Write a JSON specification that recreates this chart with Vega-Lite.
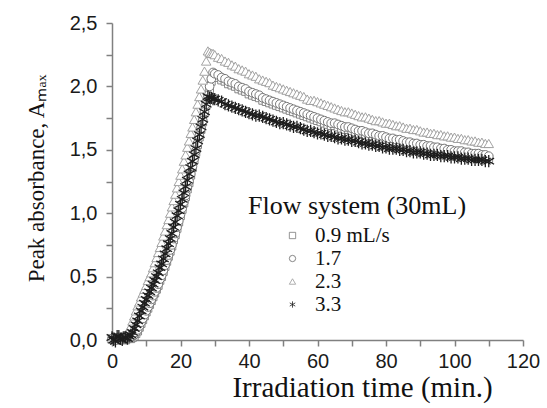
{
"$schema": "https://vega.github.io/schema/vega-lite/v6.json",
"width": 411, "height": 317,
"autosize": {"type": "none"},
"padding": {"left": 112, "top": 23, "right": 24, "bottom": 68},
"background": "white",
"config": {"view": {"stroke": null}},
"data": {"values": [
{"t":0,"a":0.01,"b":0.01,"c":0.01,"d":0.02},
{"t":0.5,"a":0.00,"b":0.02,"c":0.03,"d":0.00},
{"t":1,"a":0.02,"b":0.00,"c":0.02,"d":-0.01},
{"t":1.5,"a":0.01,"b":0.01,"c":0.00,"d":0.03},
{"t":2,"a":0.00,"b":0.02,"c":0.00,"d":0.03},
{"t":2.5,"a":0.02,"b":0.01,"c":0.02,"d":0.01},
{"t":3,"a":0.01,"b":0.01,"c":0.03,"d":0.00},
{"t":3.5,"a":0.02,"b":0.03,"c":0.03,"d":0.02},
{"t":4,"a":0.00,"b":0.02,"c":0.04,"d":0.02},
{"t":4.5,"a":0.01,"b":0.01,"c":0.06,"d":0.01},
{"t":5,"a":0.02,"b":0.02,"c":0.08,"d":0.03},
{"t":5.5,"a":0.01,"b":0.03,"c":0.11,"d":0.04},
{"t":6,"a":0.02,"b":0.03,"c":0.15,"d":0.06},
{"t":6.5,"a":0.03,"b":0.04,"c":0.19,"d":0.09},
{"t":7,"a":0.05,"b":0.06,"c":0.23,"d":0.12},
{"t":7.5,"a":0.07,"b":0.08,"c":0.27,"d":0.15},
{"t":8,"a":0.10,"b":0.11,"c":0.30,"d":0.19},
{"t":8.5,"a":0.13,"b":0.14,"c":0.34,"d":0.23},
{"t":9,"a":0.16,"b":0.17,"c":0.37,"d":0.26},
{"t":9.5,"a":0.19,"b":0.20,"c":0.40,"d":0.29},
{"t":10,"a":0.22,"b":0.23,"c":0.43,"d":0.32},
{"t":10.5,"a":0.25,"b":0.26,"c":0.47,"d":0.35},
{"t":11,"a":0.28,"b":0.29,"c":0.50,"d":0.38},
{"t":11.5,"a":0.31,"b":0.32,"c":0.53,"d":0.41},
{"t":12,"a":0.34,"b":0.35,"c":0.57,"d":0.44},
{"t":12.5,"a":0.37,"b":0.38,"c":0.61,"d":0.47},
{"t":13,"a":0.40,"b":0.41,"c":0.65,"d":0.50},
{"t":13.5,"a":0.43,"b":0.44,"c":0.69,"d":0.53},
{"t":14,"a":0.47,"b":0.48,"c":0.73,"d":0.57},
{"t":14.5,"a":0.50,"b":0.51,"c":0.77,"d":0.60},
{"t":15,"a":0.54,"b":0.55,"c":0.82,"d":0.64},
{"t":15.5,"a":0.58,"b":0.59,"c":0.86,"d":0.68},
{"t":16,"a":0.62,"b":0.63,"c":0.91,"d":0.72},
{"t":16.5,"a":0.66,"b":0.67,"c":0.95,"d":0.76},
{"t":17,"a":0.70,"b":0.71,"c":1.00,"d":0.80},
{"t":17.5,"a":0.74,"b":0.75,"c":1.05,"d":0.84},
{"t":18,"a":0.79,"b":0.80,"c":1.10,"d":0.89},
{"t":18.5,"a":0.83,"b":0.84,"c":1.15,"d":0.93},
{"t":19,"a":0.88,"b":0.89,"c":1.20,"d":0.98},
{"t":19.5,"a":0.93,"b":0.94,"c":1.25,"d":1.02},
{"t":20,"a":0.98,"b":0.99,"c":1.30,"d":1.07},
{"t":20.5,"a":1.03,"b":1.04,"c":1.35,"d":1.11},
{"t":21,"a":1.08,"b":1.09,"c":1.41,"d":1.16},
{"t":21.5,"a":1.13,"b":1.14,"c":1.46,"d":1.21},
{"t":22,"a":1.19,"b":1.20,"c":1.52,"d":1.26},
{"t":22.5,"a":1.24,"b":1.25,"c":1.57,"d":1.31},
{"t":23,"a":1.30,"b":1.31,"c":1.63,"d":1.36},
{"t":23.5,"a":1.36,"b":1.37,"c":1.68,"d":1.41},
{"t":24,"a":1.42,"b":1.43,"c":1.74,"d":1.46},
{"t":24.5,"a":1.48,"b":1.49,"c":1.80,"d":1.51},
{"t":25,"a":1.54,"b":1.55,"c":1.86,"d":1.57},
{"t":25.5,"a":1.60,"b":1.61,"c":1.92,"d":1.62},
{"t":26,"a":1.66,"b":1.67,"c":1.98,"d":1.68},
{"t":26.5,"a":1.72,"b":1.73,"c":2.05,"d":1.74},
{"t":27,"a":1.79,"b":1.80,"c":2.12,"d":1.80},
{"t":27.5,"a":1.85,"b":1.86,"c":2.20,"d":1.86},
{"t":28,"a":1.92,"b":1.93,"c":2.28,"d":1.92},
{"t":28.5,"a":1.98,"b":2.00,"c":2.27,"d":1.91},
{"t":29,"a":2.04,"b":2.06,"c":2.26,"d":1.91},
{"t":29.5,"a":2.08,"b":2.11,"c":2.26,"d":1.90},
{"t":30,"a":2.08,"b":2.10,"c":2.25,"d":1.90},
{"t":31,"a":2.07,"b":2.09,"c":2.23,"d":1.89},
{"t":32,"a":2.05,"b":2.07,"c":2.22,"d":1.88},
{"t":33,"a":2.04,"b":2.06,"c":2.20,"d":1.86},
{"t":34,"a":2.02,"b":2.04,"c":2.19,"d":1.85},
{"t":35,"a":2.01,"b":2.03,"c":2.17,"d":1.84},
{"t":36,"a":2.00,"b":2.02,"c":2.16,"d":1.83},
{"t":37,"a":1.98,"b":2.00,"c":2.14,"d":1.82},
{"t":38,"a":1.97,"b":1.99,"c":2.13,"d":1.81},
{"t":39,"a":1.96,"b":1.98,"c":2.12,"d":1.80},
{"t":40,"a":1.94,"b":1.96,"c":2.10,"d":1.79},
{"t":41,"a":1.93,"b":1.95,"c":2.09,"d":1.78},
{"t":42,"a":1.92,"b":1.94,"c":2.08,"d":1.77},
{"t":43,"a":1.91,"b":1.93,"c":2.06,"d":1.77},
{"t":44,"a":1.89,"b":1.91,"c":2.05,"d":1.76},
{"t":45,"a":1.88,"b":1.90,"c":2.04,"d":1.75},
{"t":46,"a":1.87,"b":1.89,"c":2.03,"d":1.74},
{"t":47,"a":1.86,"b":1.88,"c":2.01,"d":1.73},
{"t":48,"a":1.85,"b":1.87,"c":2.00,"d":1.72},
{"t":49,"a":1.84,"b":1.86,"c":1.99,"d":1.71},
{"t":50,"a":1.83,"b":1.85,"c":1.98,"d":1.71},
{"t":51,"a":1.82,"b":1.84,"c":1.97,"d":1.70},
{"t":52,"a":1.81,"b":1.83,"c":1.96,"d":1.69},
{"t":53,"a":1.80,"b":1.82,"c":1.95,"d":1.68},
{"t":54,"a":1.79,"b":1.81,"c":1.94,"d":1.68},
{"t":55,"a":1.78,"b":1.80,"c":1.93,"d":1.67},
{"t":56,"a":1.77,"b":1.79,"c":1.92,"d":1.66},
{"t":57,"a":1.76,"b":1.78,"c":1.90,"d":1.65},
{"t":58,"a":1.75,"b":1.77,"c":1.89,"d":1.65},
{"t":59,"a":1.74,"b":1.76,"c":1.89,"d":1.64},
{"t":60,"a":1.73,"b":1.75,"c":1.88,"d":1.63},
{"t":61,"a":1.72,"b":1.74,"c":1.87,"d":1.63},
{"t":62,"a":1.71,"b":1.73,"c":1.86,"d":1.62},
{"t":63,"a":1.70,"b":1.72,"c":1.85,"d":1.61},
{"t":64,"a":1.69,"b":1.71,"c":1.84,"d":1.61},
{"t":65,"a":1.69,"b":1.71,"c":1.83,"d":1.60},
{"t":66,"a":1.68,"b":1.70,"c":1.82,"d":1.59},
{"t":67,"a":1.67,"b":1.69,"c":1.81,"d":1.59},
{"t":68,"a":1.66,"b":1.68,"c":1.80,"d":1.58},
{"t":69,"a":1.66,"b":1.68,"c":1.80,"d":1.58},
{"t":70,"a":1.65,"b":1.67,"c":1.79,"d":1.57},
{"t":71,"a":1.64,"b":1.66,"c":1.78,"d":1.57},
{"t":72,"a":1.63,"b":1.65,"c":1.77,"d":1.56},
{"t":73,"a":1.63,"b":1.65,"c":1.76,"d":1.55},
{"t":74,"a":1.62,"b":1.64,"c":1.76,"d":1.55},
{"t":75,"a":1.61,"b":1.63,"c":1.75,"d":1.54},
{"t":76,"a":1.61,"b":1.63,"c":1.74,"d":1.54},
{"t":77,"a":1.60,"b":1.62,"c":1.73,"d":1.53},
{"t":78,"a":1.59,"b":1.61,"c":1.73,"d":1.53},
{"t":79,"a":1.59,"b":1.61,"c":1.72,"d":1.52},
{"t":80,"a":1.58,"b":1.60,"c":1.71,"d":1.52},
{"t":81,"a":1.57,"b":1.59,"c":1.71,"d":1.51},
{"t":82,"a":1.57,"b":1.59,"c":1.70,"d":1.51},
{"t":83,"a":1.56,"b":1.58,"c":1.69,"d":1.51},
{"t":84,"a":1.56,"b":1.58,"c":1.69,"d":1.50},
{"t":85,"a":1.55,"b":1.57,"c":1.68,"d":1.50},
{"t":86,"a":1.54,"b":1.56,"c":1.67,"d":1.49},
{"t":87,"a":1.54,"b":1.56,"c":1.67,"d":1.49},
{"t":88,"a":1.53,"b":1.55,"c":1.66,"d":1.48},
{"t":89,"a":1.53,"b":1.55,"c":1.66,"d":1.48},
{"t":90,"a":1.52,"b":1.54,"c":1.65,"d":1.48},
{"t":91,"a":1.52,"b":1.54,"c":1.64,"d":1.47},
{"t":92,"a":1.51,"b":1.53,"c":1.64,"d":1.47},
{"t":93,"a":1.51,"b":1.53,"c":1.63,"d":1.46},
{"t":94,"a":1.50,"b":1.52,"c":1.63,"d":1.46},
{"t":95,"a":1.50,"b":1.52,"c":1.62,"d":1.46},
{"t":96,"a":1.49,"b":1.51,"c":1.62,"d":1.45},
{"t":97,"a":1.49,"b":1.51,"c":1.61,"d":1.45},
{"t":98,"a":1.48,"b":1.50,"c":1.61,"d":1.45},
{"t":99,"a":1.48,"b":1.50,"c":1.60,"d":1.44},
{"t":100,"a":1.47,"b":1.49,"c":1.60,"d":1.44},
{"t":101,"a":1.47,"b":1.49,"c":1.59,"d":1.44},
{"t":102,"a":1.47,"b":1.49,"c":1.59,"d":1.43},
{"t":103,"a":1.46,"b":1.48,"c":1.58,"d":1.43},
{"t":104,"a":1.46,"b":1.48,"c":1.58,"d":1.43},
{"t":105,"a":1.45,"b":1.47,"c":1.57,"d":1.42},
{"t":106,"a":1.45,"b":1.47,"c":1.57,"d":1.42},
{"t":107,"a":1.45,"b":1.47,"c":1.56,"d":1.42},
{"t":108,"a":1.44,"b":1.46,"c":1.56,"d":1.42},
{"t":109,"a":1.44,"b":1.46,"c":1.55,"d":1.41},
{"t":110,"a":1.43,"b":1.45,"c":1.55,"d":1.41}
]},
"transform": [{"fold": ["a", "b", "c", "d"], "as": ["k", "v"]}],
"encoding": {
  "x": {"field": "t", "type": "quantitative",
        "scale": {"domain": [0, 120], "nice": false, "zero": false},
        "axis": {"values": [0,10,20,30,40,50,60,70,80,90,100,110,120],
                 "labelExpr": "datum.value % 20 == 0 ? datum.label : ''",
                 "labelOverlap": false, "labelFlush": false, "grid": false,
                 "domainColor": "#808080", "tickColor": "#808080", "domainWidth": 1.5, "tickWidth": 1.5, "tickSize": 6,
                 "labelFont": "Liberation Sans", "labelFontSize": 20, "labelColor": "#1a1a1a", "labelPadding": 5,
                 "title": "Irradiation time (min.)", "titleFont": "Liberation Serif", "titleFontSize": 29,
                 "titleFontWeight": "normal", "titleColor": "#111111", "titleX": 250, "titleY": 56,
                 "titleBaseline": "alphabetic", "titleAlign": "center", "titleLimit": 500}},
  "y": {"field": "v", "type": "quantitative",
        "scale": {"domain": [0, 2.5], "nice": false},
        "axis": {"values": [0,0.25,0.5,0.75,1,1.25,1.5,1.75,2,2.25,2.5],
                 "labelExpr": "(datum.value*2) % 1 == 0 ? replace(format(datum.value, '.1f'), '.', ',') : ''",
                 "labelOverlap": false, "labelFlush": false, "grid": false,
                 "domainColor": "#808080", "tickColor": "#808080", "domainWidth": 1.5, "tickWidth": 1.5, "tickSize": 6,
                 "labelFont": "Liberation Sans", "labelFontSize": 20, "labelColor": "#1a1a1a", "labelPadding": 9,
                 "title": "Peak absorbance, Aₘₐₓ", "titleFont": "Liberation Serif", "titleFontSize": 23,
                 "titleFontWeight": "normal", "titleColor": "#111111", "titleX": -69, "titleY": 155,
                 "titleBaseline": "alphabetic", "titleAlign": "center", "titleAngle": -90, "titleLimit": 500}},
  "stroke": {"field": "k", "type": "nominal",
             "scale": {"domain": ["a","b","c","d"], "range": ["#7a7a7a","#6a6a6a","#999999","#1e1e1e"]},
             "legend": {"title": "Flow system (30mL)", "orient": "none", "legendX": 136, "legendY": 170,
                        "titleFont": "Liberation Serif", "titleFontSize": 26, "titleFontWeight": "normal", "titleColor": "#111111",
                        "titlePadding": 6, "titleLimit": 500, "labelFont": "Liberation Serif", "labelFontSize": 21, "labelColor": "#111111",
                        "labelLimit": 300,
                        "labelExpr": "datum.label == 'a' ? '0.9 mL/s' : datum.label == 'b' ? '1.7' : datum.label == 'c' ? '2.3' : '3.3'",
                        "symbolOffset": 34, "labelOffset": 12, "rowPadding": 1, "symbolSize": 40, "symbolStrokeWidth": 0.8}},
  "shape": {"field": "k", "type": "nominal",
            "scale": {"domain": ["a","b","c","d"], "range": ["square","circle","triangle-up","M0,-1L0,1M-0.87,-0.5L0.87,0.5M-0.87,0.5L0.87,-0.5"]}}
},
"layer": [
  {"transform": [{"filter": "datum.k == 'a'"}], "mark": {"type": "point", "fill": "white", "opacity": 1, "fillOpacity": 1, "strokeWidth": 0.9, "size": 60}},
  {"transform": [{"filter": "datum.k == 'b'"}], "mark": {"type": "point", "fill": "white", "opacity": 1, "fillOpacity": 1, "strokeWidth": 0.9, "size": 75}},
  {"transform": [{"filter": "datum.k == 'c'"}], "mark": {"type": "point", "fill": "white", "opacity": 1, "fillOpacity": 1, "strokeWidth": 0.9, "size": 90}},
  {"transform": [{"filter": "datum.k == 'd'"}], "mark": {"type": "point", "opacity": 1, "strokeWidth": 1.3, "size": 150}}
]
}
